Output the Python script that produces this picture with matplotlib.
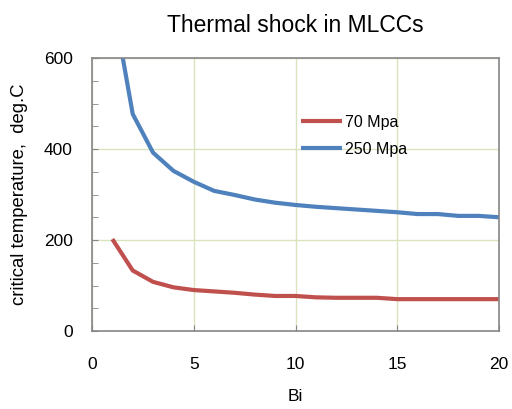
import numpy as np
import matplotlib.pyplot as plt
from matplotlib.ticker import MultipleLocator

plt.rcParams['font.family'] = ['Liberation Sans', 'DejaVu Sans']

bi = [1, 2, 3, 4, 5, 6, 7, 8, 9, 10, 11, 12, 13, 14, 15, 16, 17, 18, 19, 20]
t_70 = [202, 133, 108, 96, 90, 87, 84, 80, 77, 77, 74, 73, 73, 73, 70, 70, 70, 70, 70, 70]
t_250 = [730, 477, 392, 352, 328, 308, 299, 289, 282, 277, 273, 270, 267, 264, 261, 257, 257, 253, 253, 250]

red = '#C0504D'
blue = '#4F81BD'
frame = '#868686'
grid = '#D7E4BD'

fig = plt.figure(figsize=(5.12, 4.09), dpi=100)
ax = fig.add_axes([92/512, 1 - 331/409, (499-92)/512, (331-58)/409])

ax.plot(bi, t_70, color=red, lw=3, label='70 Mpa', solid_capstyle='butt')
ax.plot(bi, t_250, color=blue, lw=3, label='250 Mpa', solid_capstyle='butt')

ax.set_xlim(0, 20)
ax.set_ylim(0, 600)
ax.xaxis.set_major_locator(MultipleLocator(5))
ax.yaxis.set_major_locator(MultipleLocator(200))
ax.yaxis.set_minor_locator(MultipleLocator(50))
ax.grid(True, which='major', color=grid, lw=1)
ax.set_axisbelow(True)

for s in ax.spines.values():
    s.set_color(frame)
    s.set_linewidth(1.2)

ax.tick_params(which='both', direction='in', color=frame, labelsize=12.5)
ax.tick_params(which='major', length=4)
ax.tick_params(which='minor', length=4)
ax.tick_params(axis='y', pad=14)
ax.tick_params(axis='x', pad=19)

ax.set_xlabel('Bi', fontsize=12.5, labelpad=12)
ax.set_ylabel('critical temperature,  deg.C', fontsize=13.3, labelpad=11)
ax.set_title('Thermal shock in MLCCs', fontsize=16.5, pad=19)

ax.legend(loc='upper left', bbox_to_anchor=(0.497, 0.815), frameon=False,
          fontsize=11.5, handlelength=2.6, handletextpad=0.2, labelspacing=0.75,
          borderaxespad=0)

fig.savefig('out.png', dpi=100)
